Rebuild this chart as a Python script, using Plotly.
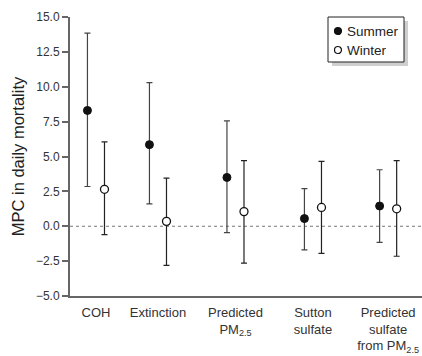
import plotly.graph_objects as go

categories = ["COH", "Extinction", "Predicted<br>PM<sub>2.5</sub>", "Sutton<br>sulfate",
              "Predicted<br>sulfate<br>from PM<sub>2.5</sub>"]
summer = [8.3, 5.85, 3.5, 0.55, 1.45]
summer_hi = [13.85, 10.3, 7.55, 2.7, 4.05]
summer_lo = [2.85, 1.6, -0.45, -1.7, -1.15]
winter = [2.65, 0.35, 1.05, 1.35, 1.25]
winter_hi = [6.05, 3.45, 4.7, 4.65, 4.7]
winter_lo = [-0.6, -2.8, -2.65, -1.95, -2.15]
y_ticks = [-5, -2.5, 0, 2.5, 5, 7.5, 10, 12.5, 15]
series_names = ["Summer", "Winter"]

# layout: category centre positions on the x axis (uneven spacing as in original)
x_pos = [1, 1.8, 2.8, 3.8, 4.77]
off = 0.11

FONT = "Liberation Sans, Arial, sans-serif"

# plot-area geometry in pixels (for placing the hand-drawn legend)
L, R, T, B = 70, 422, 17, 296
def px(x):
    return (x - L) / (R - L)
def py(y):
    return (B - y) / (B - T)

def errs(v, hi, lo):
    return [h - x for x, h in zip(v, hi)], [x - l for x, l in zip(v, lo)]

s_plus, s_minus = errs(summer, summer_hi, summer_lo)
w_plus, w_minus = errs(winter, winter_hi, winter_lo)

fig = go.Figure()
fig.add_trace(go.Scatter(
    x=[p - off for p in x_pos], y=summer, mode="markers", name=series_names[0],
    marker=dict(symbol="circle", size=8, color="#111111", line=dict(color="#111111", width=1)),
    error_y=dict(type="data", symmetric=False, array=s_plus, arrayminus=s_minus,
                 color="#444444", thickness=1.2, width=3),
))
fig.add_trace(go.Scatter(
    x=[p + off for p in x_pos], y=winter, mode="markers", name=series_names[1],
    marker=dict(symbol="circle", size=8, color="white", line=dict(color="#111111", width=1.3)),
    error_y=dict(type="data", symmetric=False, array=w_plus, arrayminus=w_minus,
                 color="#222222", thickness=1.2, width=3),
))

fig.add_hline(y=0, line=dict(color="#777777", width=1, dash="3px,3px"), layer="below")

# legend: shadow, box, symbols, labels
fig.add_shape(type="rect", xref="paper", yref="paper",
              x0=px(332), x1=px(408), y0=py(66), y1=py(21),
              fillcolor="#cfcfcf", line=dict(width=0), layer="above")
fig.add_shape(type="rect", xref="paper", yref="paper",
              x0=px(328), x1=px(404), y0=py(62), y1=py(17),
              fillcolor="white", line=dict(color="#222222", width=1), layer="above")
for i, (fill, yy) in enumerate([("#111111", 31), ("white", 50)]):
    fig.add_shape(type="circle", xref="paper", yref="paper",
                  xsizemode="pixel", ysizemode="pixel",
                  xanchor=px(338), yanchor=py(yy),
                  x0=-3.5, x1=3.5, y0=-3.5, y1=3.5,
                  fillcolor=fill, line=dict(color="#111111", width=1.2), layer="above")
    fig.add_annotation(xref="paper", yref="paper", x=px(345), y=py(yy),
                       xanchor="left", yanchor="middle", showarrow=False,
                       text=series_names[i], font=dict(size=13.5, color="#222222"))

fig.update_layout(
    width=422, height=356,
    margin=dict(l=L, r=422 - R, t=T, b=356 - B, pad=0),
    paper_bgcolor="white", plot_bgcolor="white",
    font=dict(family=FONT, color="#333333", size=13),
    showlegend=False,
    xaxis=dict(range=[0.665, 5.207], tickmode="array", tickvals=x_pos, ticktext=categories,
               showgrid=False, zeroline=False, showline=True, linecolor="#666666", linewidth=2,
               ticks="", ticklabelstandoff=3, automargin=False,
               tickfont=dict(size=13, color="#333333")),
    yaxis=dict(range=[-5, 15], tickmode="array", tickvals=y_ticks, tickformat=".1f",
               showgrid=False, zeroline=False, showline=True, linecolor="#666666", linewidth=2,
               ticks="outside", ticklen=6, tickcolor="#666666", tickwidth=1.5, automargin=False,
               tickfont=dict(size=12, color="#333333"),
               title=dict(text="MPC in daily mortality", font=dict(size=16.5, color="#222222"), standoff=7)),
)

fig.write_html("out.html", config={"displayModeBar": False},
               post_script="document.body.style.margin='0';")
